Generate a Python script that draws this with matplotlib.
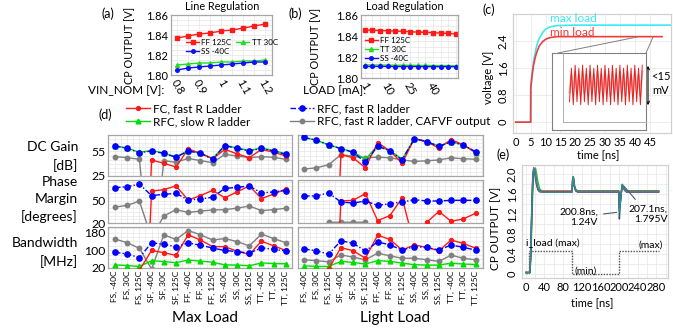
import matplotlib
matplotlib.use('Agg')
import matplotlib.pyplot as plt
from matplotlib.lines import Line2D
from matplotlib.ticker import FormatStrFormatter, MultipleLocator

W, H = 673, 331
plt.rcParams['font.family'] = ['Lato', 'DejaVu Sans']

# (a) line regulation
vin_nom = [0.8, 0.85, 0.9, 0.95, 1.0, 1.05, 1.1, 1.15, 1.2]
vin_labels = ['0.8', '0.9', '1', '1.1', '1.2']
line_ff = [1.837, 1.839, 1.841, 1.842, 1.844, 1.845, 1.847, 1.849, 1.851]
line_tt = [1.810, 1.811, 1.812, 1.812, 1.813, 1.813, 1.814, 1.814, 1.815]
line_ss = [1.805, 1.807, 1.808, 1.809, 1.810, 1.811, 1.812, 1.813, 1.813]

# (b) load regulation
load_ma = [1, 4, 7, 10, 15, 20, 25, 30, 35, 40, 45, 50, 55]
load_labels = ['1', '10', '25', '40']
load_ff = [1.8457, 1.8455, 1.8452, 1.8450, 1.8447, 1.8445, 1.8440, 1.8437, 1.8435, 1.8432, 1.8428, 1.8425, 1.8420]
load_tt = [1.8125, 1.8124, 1.8124, 1.8123, 1.8122, 1.8122, 1.8121, 1.8120, 1.8120, 1.8119, 1.8119, 1.8118, 1.8118]
load_ss = [1.8110, 1.8110, 1.8110, 1.8110, 1.8109, 1.8109, 1.8109, 1.8109, 1.8108, 1.8108, 1.8108, 1.8108, 1.8107]

# (c) start-up
t_max = [0, 5, 5.05, 5.5, 6, 6.5, 7, 7.5, 8, 9, 10, 11, 12, 14, 20, 52]
v_max = [0, 0, 1.0, 1.45, 1.8, 2.05, 2.25, 2.4, 2.5, 2.65, 2.75, 2.8, 2.83, 2.86, 2.87, 2.87]
t_min = [0, 5, 5.05, 5.5, 6, 6.5, 7, 7.5, 8, 9, 10, 11, 12, 14, 20, 49]
v_min = [0, 0, 1.0, 1.4, 1.7, 1.9, 2.05, 2.17, 2.27, 2.38, 2.45, 2.49, 2.51, 2.53, 2.53, 2.53]
ripple_a = [2, 13, 1, 14, 2, 13, 1, 14, 2, 13, 1, 14, 2, 13, 1, 14, 2, 13, 1, 14,
            2, 13, 1, 14, 2, 13, 1, 14, 2, 13, 1, 14, 2, 13, 1, 14, 2, 13, 1, 14]
ripple_b = [5, 11, 4, 12, 5, 11, 4, 12, 5, 11, 4, 12, 5, 11, 4, 12, 5, 11, 4, 12,
            5, 11, 4, 12, 5, 11, 4, 12, 5, 11, 4, 12, 5, 11, 4, 12, 5, 11, 4, 12]

# (d) corner sweeps
corners = ['FS, -40C', 'FS, 30C', 'FS, 125C', 'SF, -40C', 'SF, 30C', 'SF, 125C',
           'FF, -40C', 'FF, 30C', 'FF, 125C', 'SS, -40C', 'SS, 30C', 'SS, 125C',
           'TT, -40C', 'TT, 30C', 'TT, 125C']

dc_max_fc = [-300, -300, -300, 44.5, 40.5, 36, 58, 52.6, 46, 57.5, 52, 47.4, 57.5, 53.9, 49.4]
dc_max_rfc = [61.6, 58.7, 53.5, 55.5, 52.6, 47.8, 55.5, 52.6, 45.7, 62, 58.7, 55.5, 58.7, 55.5, 51.4]
dc_max_slow = [62, 59, 54, 56, 53, 48.3, 56, 53, 46.3, 62.4, 59.2, 56, 59.2, 56, 52]
dc_max_caf = [48.6, 47.4, 45.3, -100, 43.7, 41.7, 46.5, 43.7, 41.3, 51.4, 49.4, 47.4, 48.6, 47.8, 45.3]

pm_max_fc = [-300, -300, -300, 63, 65, 70, 51, 57, 64, 54, 62, 70, 53, 59, 66]
pm_max_rfc = [67.6, 69, 72.4, 57, 58.6, 60, 51, 52.4, 54.8, 66.7, 68, 70, 60.5, 62, 63.8]
pm_max_caf = [41.4, 43.8, 49.5, 0, 29.5, 38, 34.3, 36, 37.6, 38, 40, 42.9, 36.7, 38, 40]

bw_max_fc = [0, 0, 10, 99, 89, 77, 170, 146, 117, 116, 96, 81, 141, 120, 99]
bw_max_rfc = [91, 83, 67, 134, 127, 116, 133, 123, 110, 99, 94, 87, 111, 104, 97]
bw_max_slow = [34, 31, 27, 53, 49, 44, 56, 51, 46, 34, 33, 30, 43, 40, 39]
bw_max_caf = [151, 134, 109, 15, 170, 149, 189, 170, 146, 153, 139, 120, 173, 153, 134]

dc_light_fc = [-300, -300, -300, 51, 47.2, 35, 65.7, 55.7, 40.6, 70.6, 66.9, 59, 69.4, 63, 53.5]
dc_light_rfc = [72, 68.7, 63, 58.3, 53.9, 41.7, 61.3, 55.7, 44.6, 70.6, 66.9, 61.3, 66.5, 62.8, 54.6]
dc_light_slow = [72, 68.5, 63, 58.5, 54.3, 45.4, 62, 56, 45.5, 70.6, 67, 61.5, 66.8, 63, 53.5]
dc_light_caf = [33.5, 35, 38.7, 51, 49, 47.2, 48, 47.2, 44.6, 42.8, 43.5, 44.6, 47.2, 46, 45.4]

pm_light_fc = [-300, -300, -300, 49.7, 50.6, 59.7, 23.2, 30, 53.8, -10, 20.9, 35.5, 22.3, 25.5, 33.2]
pm_light_rfc = [56.5, 56.5, 60.6, 48.3, 46.9, 49.7, 43.7, 46, 48.3, 51.5, 49.7, 49.7, 50.6, 50.6, 50.6]
pm_light_caf = [10, 10, 21, 21, 21, 21, 0, 0, 0, 0, 0, 0, 0, 0, 0]

bw_light_fc = [0, 0, 15, 112, 98, 64, 168, 149, 101, 124, 113, 98, 146, 131, 109]
bw_light_rfc = [106, 98, 82, 143, 131, 97, 138, 124, 101, 116, 113, 101, 124, 113, 101]
bw_light_slow = [30, 27, 27, 50, 45, 38, 53, 50, 42, 35, 33, 33, 42, 38, 36]
bw_light_caf = [57, 53, 48, 79, 69, 57, 87, 75, 64, 64, 57, 50, 78, 64, 57]

# (e) load step transient
t_e = [0, 9, 11, 13, 15, 17, 19, 21, 23, 26, 30, 36, 99.5, 100.5, 102, 104, 107, 111,
       199.5, 200.8, 202, 204, 206, 207.1, 209, 212, 216, 285]
e_teal = [0.03, 0.03, 0.5, 1.3, 1.9, 2.1, 2.1, 1.98, 1.85, 1.72, 1.66, 1.64, 1.64, 1.88, 1.95, 1.78, 1.68, 1.65,
          1.65, 1.24, 1.35, 1.55, 1.72, 1.795, 1.74, 1.68, 1.65, 1.65]
e_green = [0.03, 0.03, 0.3, 1.0, 1.6, 1.95, 2.1, 2.12, 2.02, 1.85, 1.7, 1.65, 1.65, 1.85, 1.93, 1.8, 1.7, 1.66,
           1.66, 1.35, 1.42, 1.58, 1.73, 1.78, 1.76, 1.7, 1.66, 1.66]
e_pink = [0.03, 0.03, 0.6, 1.4, 2.0, 2.13, 2.05, 1.9, 1.78, 1.68, 1.64, 1.64, 1.64, 1.9, 1.92, 1.75, 1.66, 1.64,
          1.64, 1.3, 1.36, 1.52, 1.7, 1.77, 1.73, 1.67, 1.64, 1.64]
e_lime = [0.03, 0.03, 0.4, 1.2, 1.8, 2.05, 2.12, 2.0, 1.88, 1.74, 1.67, 1.65, 1.65, 1.86, 1.94, 1.77, 1.68, 1.65,
          1.65, 1.38, 1.44, 1.56, 1.72, 1.79, 1.75, 1.69, 1.65, 1.65]
e_red = [0.03, 0.03, 0.45, 1.25, 1.85, 2.08, 2.08, 1.95, 1.82, 1.7, 1.66, 1.66, 1.66, 1.87, 1.94, 1.76, 1.68, 1.66,
         1.66, 1.32, 1.4, 1.56, 1.71, 1.78, 1.75, 1.69, 1.66, 1.66]
e_dark = [0.03, 0.03, 0.45, 1.25, 1.85, 2.08, 2.08, 1.95, 1.82, 1.7, 1.65, 1.64, 1.64, 1.87, 1.94, 1.76, 1.67, 1.64,
          1.64, 1.1, 1.3, 1.55, 1.71, 1.78, 1.74, 1.68, 1.64, 1.64]
t_iload = [0, 8, 8, 100, 100, 200, 200, 285]
v_iload = [0.03, 0.03, 0.46, 0.46, 0.0, 0.0, 0.46, 0.46]

fig = plt.figure(figsize=(W / 100, H / 100), dpi=100)


def add_ax(l, t, r, b):
    return fig.add_axes([l / W, 1 - b / H, (r - l) / W, (b - t) / H])


def ftext(x, y, s, **kw):
    kw.setdefault('ha', 'center')
    kw.setdefault('va', 'center')
    fig.text(x / W, 1 - y / H, s, **kw)


def excel_box(ax, color='#a6a6a6'):
    for sp in ax.spines.values():
        sp.set_color(color)
        sp.set_linewidth(0.9)
    ax.tick_params(which='both', length=0, pad=2)
    ax.grid(which='both', color='#e6e6e6', lw=0.5)
    ax.set_axisbelow(True)


# ---- (a)
ax = add_ax(171, 15, 272, 75)
excel_box(ax)
xa = range(len(vin_nom))
h_ff, = ax.plot(xa, line_ff, color='#ff1a1a', marker='s', ms=2.6, lw=1, label='FF 125C')
h_tt, = ax.plot(xa, line_tt, color='#22dd22', marker='^', ms=2.8, lw=1, label='TT 30C')
h_ss, = ax.plot(xa, line_ss, color='#1010ff', marker='o', ms=2.6, lw=1, label='SS -40C')
ax.set_xlim(-0.55, 8.6)
ax.set_ylim(1.80, 1.86)
ax.set_yticks([1.80, 1.82, 1.84, 1.86])
ax.yaxis.set_major_formatter(FormatStrFormatter('%.2f'))
ax.yaxis.set_minor_locator(MultipleLocator(0.005))
ax.set_xticks(range(0, 9, 2))
ax.set_xticks(range(9), minor=True)
ax.set_xticklabels(vin_labels, rotation=-60, ha='center', va='top')
ax.tick_params(labelsize=8)
ax.legend(handles=[h_ff, h_ss, h_tt], ncol=2, loc='upper left', bbox_to_anchor=(0.15, 0.6),
          frameon=False, fontsize=5.8, handlelength=1.6, handletextpad=0.3, columnspacing=0.6,
          labelspacing=0.25, borderpad=0, borderaxespad=0)
ftext(222, 7, 'Line Regulation', size=7.8)
ftext(108, 14, '(a)', size=9)
ftext(130, 45, 'CP OUTPUT [V]', rotation=90, size=7.8)
ftext(88, 91, 'VIN_NOM [V]:', ha='left', size=8.5)

# ---- (b)
ax = add_ax(361, 15, 458, 78)
excel_box(ax)
xb = range(len(load_ma))
h_ff, = ax.plot(xb, load_ff, color='#ff1a1a', marker='s', ms=2.6, lw=1, label='FF 125C')
h_tt, = ax.plot(xb, load_tt, color='#22dd22', marker='^', ms=2.8, lw=1, label='TT 30C')
h_ss, = ax.plot(xb, load_ss, color='#1010ff', marker='o', ms=2.6, lw=1, label='SS -40C')
ax.set_xlim(-0.5, 12.3)
ax.set_ylim(1.80, 1.86)
ax.set_yticks([1.80, 1.82, 1.84, 1.86])
ax.yaxis.set_major_formatter(FormatStrFormatter('%.2f'))
ax.yaxis.set_minor_locator(MultipleLocator(0.005))
ax.set_xticks(range(0, 12, 3))
ax.set_xticks(range(13), minor=True)
ax.set_xticklabels(load_labels, rotation=-60, ha='center', va='top')
ax.tick_params(labelsize=8)
ax.legend(handles=[h_ff, h_tt, h_ss], loc='upper left', bbox_to_anchor=(0.04, 0.65),
          frameon=False, fontsize=5.8, handlelength=1.6, handletextpad=0.3,
          labelspacing=0.25, borderpad=0, borderaxespad=0)
ftext(405, 7, 'Load Regulation', size=7.8)
ftext(295, 14, '(b)', size=9)
ftext(316, 46, 'CP OUTPUT [V]', rotation=90, size=7.8)
ftext(303, 91, 'LOAD [mA]:', ha='left', size=8.5)

# ---- (c)
ax = add_ax(513, 14, 671, 133)
excel_box(ax, '#d0d0d0')
ax.plot(t_max, v_max, color='#3de8f2', lw=1.2)
ax.plot(t_min, v_min, color='#f03c3c', lw=1.2)
ax.set_xlim(-0.9, 52)
ax.set_ylim(-0.32, 3.2)
ax.set_xticks(range(0, 50, 5))
ax.set_yticks([0, 0.8, 1.6, 2.4])
ax.set_yticklabels(['0', '0.8', '1.6', '2.4'], rotation=90, va='center')
ax.tick_params(labelsize=8, pad=3)
ftext(550, 19, 'max load', ha='left', color='#3de8f2', size=8.5)
ftext(550, 32, 'min load', ha='left', color='#f03c3c', size=8.5)
ftext(489, 10, '(c)', size=9)
ftext(489, 77, 'voltage [V]', rotation=90, size=8)
ftext(598, 155, 'time [ns]', size=8)

outer = add_ax(552, 53, 646, 130)
outer.set_xticks([])
outer.set_yticks([])
for sp in outer.spines.values():
    sp.set_color('#808080')
    sp.set_linewidth(0.8)
inner = add_ax(563, 53, 646, 122)
inner.patch.set_alpha(0)
inner.set_xticks([])
inner.set_yticks([])
for side in ['top', 'right']:
    inner.spines[side].set_visible(False)
for side in ['left', 'bottom']:
    inner.spines[side].set_color('#b0b0b0')
    inner.spines[side].set_linewidth(0.7)
inner.plot(range(len(ripple_b)), ripple_b, color='#f5a0a0', lw=1.4)
inner.plot(range(len(ripple_a)), ripple_a, color='#e82020', lw=0.7)
inner.set_xlim(-3.5, 41)
inner.set_ylim(-4.65, 18)
fig.add_artist(Line2D([558 / W, 637 / W], [1 - 53 / H, 1 - 37 / H], color='#808080', lw=0.7))
fig.add_artist(Line2D([646 / W, 653 / W], [1 - 53 / H, 1 - 37 / H], color='#808080', lw=0.7))
ax.annotate('', xy=(648 / W, 1 - 108 / H), xytext=(648 / W, 1 - 63 / H), xycoords='figure fraction',
            textcoords='figure fraction', annotation_clip=False,
            arrowprops=dict(arrowstyle='<->', color='black', lw=0.8, mutation_scale=5))
ftext(661, 77, '<15', size=8)
ftext(661, 91, 'mV', size=8)

# ---- (d)
st_fc = dict(color='#ff1a1a', marker='o', ms=2.8, lw=1.0, zorder=4)
st_rfc = dict(color='#0000ff', marker='o', ms=3.8, lw=1.0, ls=(0, (4, 1.5, 1, 1.5)), zorder=5)
st_slow = dict(color='#00dd00', marker='^', ms=3.4, lw=1.0, zorder=3)
st_caf = dict(color='#808080', marker='o', ms=3.2, lw=1.0, zorder=2)

rows = [
    (135, 176, (25, 75), [25, 55], 5),
    (180, 223, (20, 78), [20, 50], 5),
    (227, 268, (20, 205), [20, 100, 180], 20),
]
cols = [
    (108, 292, (-0.57, 14.5), [
        (dc_max_caf, dc_max_slow, dc_max_fc, dc_max_rfc),
        (pm_max_caf, None, pm_max_fc, pm_max_rfc),
        (bw_max_caf, bw_max_slow, bw_max_fc, bw_max_rfc)]),
    (298, 483, (-0.5, 14.6), [
        (dc_light_caf, dc_light_slow, dc_light_fc, dc_light_rfc),
        (pm_light_caf, None, pm_light_fc, pm_light_rfc),
        (bw_light_caf, bw_light_slow, bw_light_fc, bw_light_rfc)]),
]
xd = range(len(corners))
for ci, (l, r, xlim, blocks) in enumerate(cols):
    for ri, (t, b, ylim, yt, minor) in enumerate(rows):
        ax = add_ax(l, t, r, b)
        excel_box(ax)
        caf, slow, fc, rfc = blocks[ri]
        ax.plot(xd, caf, **st_caf)
        if slow is not None:
            ax.plot(xd, slow, **st_slow)
        ax.plot(xd, fc, **st_fc)
        ax.plot(xd, rfc, **st_rfc)
        ax.set_xlim(*xlim)
        ax.set_ylim(*ylim)
        ax.set_xticks(list(xd))
        ax.set_xticks([i + 0.5 for i in xd], minor=True)
        ax.yaxis.set_minor_locator(MultipleLocator(minor))
        ax.set_yticks(yt)
        if ci == 0:
            ax.tick_params(axis='y', labelsize=8.8, pad=2)
        else:
            ax.set_yticklabels([])
        if ri == 2:
            ax.set_xticklabels(corners, rotation=90, size=6)
        else:
            ax.set_xticklabels([])

row_labels = [(147, 'DC Gain'), (166, '[dB]'), (182, 'Phase'), (199, 'Margin'), (217, '[degrees]'),
              (243, 'Bandwidth'), (262, '[MHz]')]
for y, s in row_labels:
    ftext(78, y, s, ha='right', size=10)
ftext(105, 115, '(d)', size=9)
ftext(205, 318, 'Max Load', size=11)
ftext(395, 318, 'Light Load', size=11)

h_fc = Line2D([], [], **st_fc)
h_slow = Line2D([], [], **st_slow)
h_rfc = Line2D([], [], **st_rfc)
h_caf = Line2D([], [], **st_caf)
fig.legend(handles=[h_fc, h_slow], labels=['FC, fast R Ladder', 'RFC, slow R ladder'],
           loc='upper left', bbox_to_anchor=(126 / W, 1 - 103 / H), frameon=False, fontsize=8.5,
           handlelength=2.0, handletextpad=0.3, labelspacing=0.2, borderpad=0, borderaxespad=0)
fig.legend(handles=[h_rfc, h_caf], labels=['RFC, fast R ladder', 'RFC, fast R ladder, CAFVF output'],
           loc='upper left', bbox_to_anchor=(290 / W, 1 - 103 / H), frameon=False, fontsize=8.5,
           handlelength=2.0, handletextpad=0.3, labelspacing=0.2, borderpad=0, borderaxespad=0)

# ---- (e)
ax = add_ax(522, 165, 668, 278)
excel_box(ax, '#d0d0d0')
ax.plot(t_iload, v_iload, color='#505050', lw=1.0, ls=(0, (1, 1)))
for vals, col in [(e_lime, '#b8dc50'), (e_green, '#30b830'), (e_pink, '#e040e0'),
                  (e_red, '#e03030'), (e_dark, '#3a5070'), (e_teal, '#2a9090')]:
    ax.plot(t_e, vals, color=col, lw=1.0)
ax.set_xlim(-8, 305)
ax.set_ylim(-0.08, 2.18)
ax.set_xticks(range(0, 320, 40))
ax.xaxis.set_minor_locator(MultipleLocator(20))
ax.set_yticks([0, 0.4, 0.8, 1.2, 1.6, 2.0])
ax.set_yticklabels(['0', '0.4', '0.8', '1.2', '1.6', '2.0'], rotation=90, va='center')
ax.yaxis.set_minor_locator(MultipleLocator(0.2))
ax.tick_params(labelsize=8, pad=3)
ax.annotate('200.8ns,\n1.24V', xy=(200.8, 1.24), xytext=(155, 1.14), ha='right', va='center',
            multialignment='right', size=7.5, arrowprops=dict(arrowstyle='-', color='#406070', lw=0.8))
ax.annotate('207.1ns,\n1.795V', xy=(207.1, 1.795), xytext=(220, 1.2), ha='left', va='center',
            multialignment='right', size=7.5, arrowprops=dict(arrowstyle='-', color='#406070', lw=0.8))
ax.text(0, 0.62, 'i_load (max)', ha='left', va='center', size=7.5)
ax.text(129, 0.05, '(min)', ha='center', va='center', size=7.5)
ax.text(267, 0.58, '(max)', ha='center', va='center', size=7.5)
ftext(503, 155, '(e)', size=9)
ftext(496, 228, 'CP OUTPUT [V]', rotation=90, size=8.5)
ftext(592, 303, 'time [ns]', size=8)

fig.savefig('out.png', dpi=100)
